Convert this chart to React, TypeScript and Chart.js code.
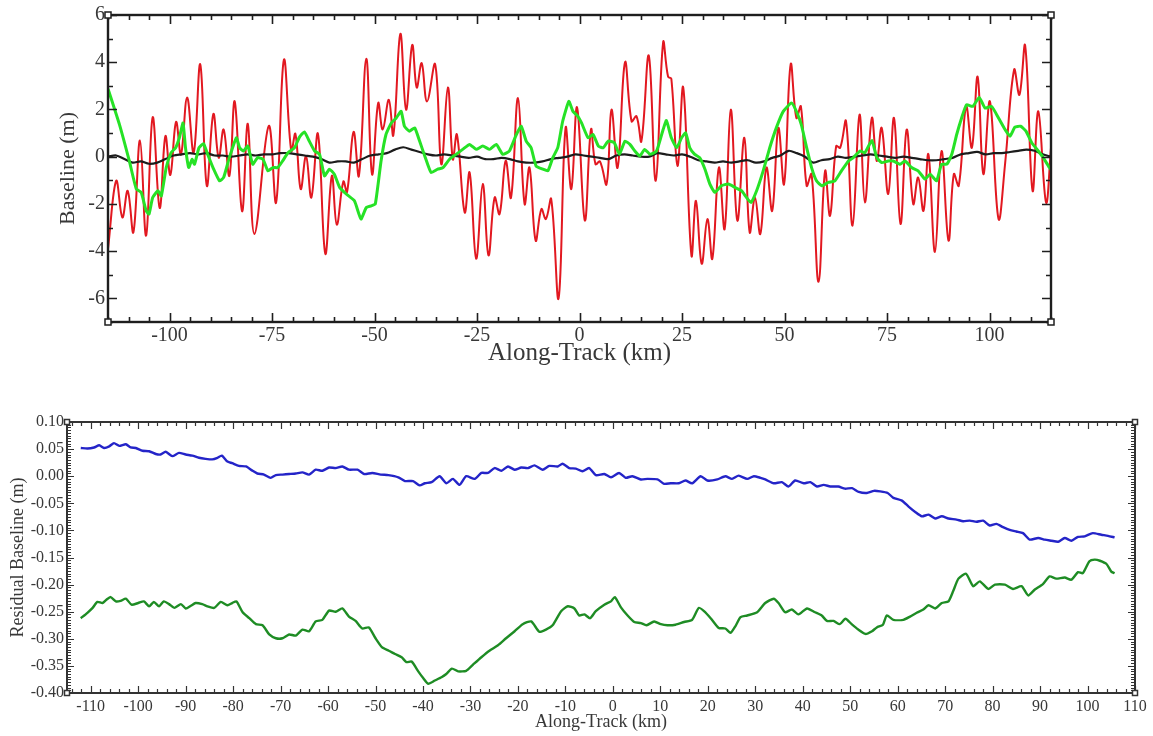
import React, { useEffect, useRef } from 'react';
import { Chart, registerables } from 'chart.js';

Chart.register(...registerables);

// ---------- DATA (top chart: Baseline vs Along-Track) ----------
const redBaseline: [number, number][] = [
  [-115, -3.9], [-113.0, -1.02], [-111.5, -2.57], [-110.2, -1.45], [-108.8, -3.2], [-107.2, 0.69],
  [-105.7, -3.34], [-104.1, 1.67], [-102.4, -2.17], [-101.0, 0.87], [-99.8, -0.77], [-98.4, 1.47],
  [-97.2, 0.1], [-95.7, 2.51], [-94.1, 0.17], [-92.5, 3.91], [-90.9, -1.23], [-89.3, 1.81],
  [-88.0, -0.04], [-86.8, 1.15], [-85.4, -0.81], [-84.1, 2.34], [-82.3, -2.31], [-80.9, 1.39],
  [-79.3, -3.27], [-75.8, 1.3], [-74.0, -1.94], [-72.1, 4.1], [-70.3, 0.24], [-69.3, 0.97],
  [-68.0, -1.37], [-66.7, 0.03], [-65.4, -1.73], [-63.8, 0.97], [-62.0, -4.11], [-60.4, -0.81],
  [-59.2, -2.88], [-57.6, -1.05], [-56.7, -1.5], [-55.1, 1.05], [-53.8, -0.81], [-52.0, 4.15],
  [-50.6, -0.74], [-49.1, 2.27], [-48.0, 1.15], [-46.5, 2.41], [-45.4, 0.91], [-43.7, 5.2],
  [-42.3, 1.99], [-40.8, 4.73], [-39.7, 2.93], [-38.5, 3.96], [-37.2, 2.34], [-35.2, 3.91],
  [-33.7, -0.32], [-32.1, 2.93], [-30.9, -0.11], [-29.9, 0.94], [-28.0, -2.36], [-26.8, -0.67],
  [-25.2, -4.32], [-23.6, -1.16], [-22.2, -4.18], [-20.7, -1.73], [-19.5, -2.43], [-18.0, -0.18],
  [-16.7, -1.73], [-15.0, 2.48], [-13.4, -2.0], [-12.2, -0.46], [-10.7, -3.55], [-9.3, -2.22],
  [-8.2, -2.64], [-6.9, -1.8], [-5.1, -6.0], [-3.4, 1.22], [-2.0, -1.37], [-0.6, 2.09],
  [1.3, -2.7], [2.8, 1.15], [3.9, -0.32], [5.0, -0.2], [6.6, -1.16], [7.8, 1.99],
  [9.3, -0.46], [11.1, 4.0], [12.7, 1.5], [13.9, 1.71], [15.1, 0.66], [16.9, 4.28],
  [18.6, -1.02], [20.4, 4.84], [21.6, 3.39], [22.4, 3.3], [23.9, -0.39], [25.3, 2.93],
  [27.3, -4.18], [28.4, -1.87], [29.8, -4.53], [31.2, -2.64], [32.4, -4.32], [34.0, -0.46],
  [35.4, -3.06], [36.9, 1.99], [38.5, -2.71], [40.2, 0.8], [41.5, -3.2], [42.8, -1.73],
  [44.1, -3.27], [45.6, -0.46], [47.0, -2.29], [48.5, 1.22], [49.9, -1.16], [51.5, 3.91],
  [52.9, 1.64], [54.0, 2.13], [55.4, -1.23], [56.6, -0.74], [58.3, -5.3], [59.9, -0.6],
  [61.1, -2.5], [62.6, 0.45], [63.6, 0.38], [65.0, 1.5], [66.6, -2.92], [68.3, 1.78],
  [69.6, -1.94], [71.3, 1.64], [72.5, -0.18], [73.7, 1.22], [75.3, -1.58], [76.7, 1.64],
  [78.3, -2.85], [79.8, 1.15], [81.4, -2.0], [82.6, -0.88], [83.9, -2.29], [85.1, 0.1],
  [86.7, -4.04], [88.3, 0.24], [90.0, -3.55], [91.3, -0.74], [92.5, -1.23], [94.3, 2.13],
  [95.7, 0.38], [97.1, 3.39], [98.5, -0.74], [100.1, 2.34], [102.2, -2.64], [103.8, -0.3],
  [106.0, 3.68], [107.3, 2.62], [108.7, 4.7], [110.5, -1.44], [111.9, 1.92], [113.8, -1.94],
  [115, 0.38],
];

const greenBaseline: [number, number][] = [
  [-115, 2.88], [-112.2, 1.36], [-109.8, -0.18], [-108.1, -1.37], [-106.9, -1.51], [-105.7, -2.29],
  [-105.0, -2.43], [-104.1, -1.73], [-102.8, -1.44], [-102.0, -1.66], [-100.8, -0.46], [-99.6, 0.17],
  [-98.5, 0.38], [-97.6, 0.8], [-96.7, 1.43], [-96.1, 0.38], [-95.3, -0.46], [-94.5, -0.11],
  [-93.9, -0.32], [-92.8, 0.38], [-91.7, 0.55], [-90.7, 0.1], [-89.4, -0.46], [-87.8, -1.02],
  [-86.8, -0.88], [-85.4, -0.04], [-83.7, 0.8], [-82.9, 0.38], [-82.0, 0.24], [-80.9, 0.45],
  [-79.7, -0.32], [-78.5, -0.04], [-77.2, -0.11], [-76.0, -0.6], [-74.8, -0.46], [-73.6, -0.46],
  [-72.4, -0.18], [-71.1, 0.17], [-69.5, 0.38], [-68.3, 0.83], [-67.1, 1.05], [-65.9, 0.66],
  [-64.6, 0.24], [-63.4, 0.1], [-62.2, -0.81], [-61.0, -0.53], [-59.8, -0.74], [-58.5, -1.3],
  [-56.9, -1.58], [-54.9, -1.87], [-53.3, -2.64], [-52.0, -2.15], [-50.8, -2.08], [-49.8, -2.0],
  [-48.4, -0.18], [-47.2, 0.94], [-45.9, 1.43], [-44.7, 1.64], [-43.5, 1.92], [-42.7, 1.29],
  [-41.5, 1.08], [-40.2, 1.22], [-39.0, 0.66], [-37.6, -0.04], [-36.2, -0.67], [-34.6, -0.53],
  [-33.3, -0.46], [-31.7, -0.11], [-30.1, 0.1], [-28.5, 0.31], [-26.8, 0.52], [-25.2, 0.31],
  [-23.6, 0.45], [-21.9, 0.31], [-20.3, 0.52], [-18.7, 0.1], [-17.1, 0.24], [-15.4, 0.94],
  [-14.2, 1.29], [-13.0, 0.66], [-11.8, 0.38], [-10.6, -0.39], [-8.9, -0.53], [-7.7, -0.6],
  [-6.5, -0.04], [-5.3, 0.38], [-4.1, 1.5], [-2.6, 2.34], [-1.6, 1.92], [-0.4, 1.71],
  [0.5, 1.43], [2.1, 0.8], [3.3, 0.94], [4.6, 0.45], [5.8, 0.38], [7.0, 0.66],
  [8.5, 0.59], [9.7, 0.1], [11.1, 0.66], [12.3, 0.52], [13.5, 0.24], [14.7, 0.03],
  [15.9, 0.31], [17.2, 0.1], [18.8, 0.24], [20.4, 1.15], [21.2, 1.53], [22.4, 0.8],
  [23.7, 0.38], [24.9, 0.8], [25.9, 1.01], [26.9, 0.38], [28.1, 0.1], [29.3, -0.04],
  [30.6, -0.53], [31.8, -1.16], [33.0, -1.51], [34.6, -1.23], [36.3, -1.16], [37.9, -1.3],
  [39.5, -1.44], [40.7, -1.72], [41.8, -1.94], [43.2, -1.44], [44.8, -0.6], [46.4, 0.38],
  [48.0, 1.22], [49.7, 1.92], [51.7, 2.27], [52.9, 1.92], [54.1, 1.36], [55.4, 0.38],
  [56.6, -0.46], [57.8, -1.02], [59.1, -1.23], [60.7, -1.09], [62.3, -1.02], [63.9, -0.6],
  [65.6, -0.18], [66.8, -0.04], [68.4, 0.24], [69.6, 0.17], [71.3, 0.69], [72.5, -0.04],
  [73.7, -0.25], [75.3, -0.18], [76.5, -0.18], [78.2, -0.32], [79.4, -0.18], [81.0, -0.46],
  [82.6, -0.6], [84.3, -0.95], [85.5, -0.74], [87.1, -1.02], [88.3, -0.32], [89.6, -0.32],
  [90.8, 0.1], [92.0, 0.94], [93.2, 1.64], [94.4, 2.2], [95.9, 2.13], [97.5, 2.51],
  [98.9, 2.06], [100.5, 2.13], [102.2, 1.64], [103.8, 1.15], [105.0, 0.87], [106.2, 1.25],
  [107.6, 1.29], [108.9, 1.08], [110.3, 0.59], [111.9, 0.24], [113.1, -0.04], [114.6, -0.46],
  [115, -0.55],
];

const blackBaseline: [number, number][] = [
  [-115, 0.0], [-113, 0.05], [-111, -0.1], [-109, -0.25], [-107, -0.2], [-105, -0.3],
  [-103, -0.25], [-101, -0.1], [-99, 0.05], [-97, 0.1], [-95, 0.15], [-93, 0.1],
  [-91, 0.15], [-89, 0.05], [-87, 0.05], [-85, 0.0], [-83, 0.05], [-81, 0.1],
  [-79, 0.05], [-77, 0.1], [-75, 0.1], [-73, 0.15], [-71, 0.15], [-69, 0.1],
  [-67, 0.05], [-65, 0.0], [-63, -0.1], [-61, -0.25], [-59, -0.2], [-57, -0.2],
  [-55, -0.25], [-53, -0.1], [-51, 0.05], [-49, 0.1], [-47, 0.15], [-45, 0.3],
  [-43, 0.4], [-41, 0.3], [-39, 0.2], [-37, 0.1], [-35, 0.05], [-33, 0.1],
  [-31, 0.05], [-29, 0.0], [-27, -0.05], [-25, 0.0], [-23, -0.1], [-21, -0.1],
  [-19, -0.05], [-17, -0.1], [-15, -0.2], [-13, -0.25], [-11, -0.25], [-9, -0.2],
  [-7, -0.1], [-5, -0.05], [-3, 0.0], [-1, 0.1], [1, 0.05], [3, 0.0],
  [5, -0.05], [7, -0.1], [9, 0.05], [11, 0.1], [13, 0.05], [15, 0.0],
  [17, 0.0], [19, 0.15], [21, 0.1], [23, 0.05], [25, 0.1], [27, 0.0],
  [29, -0.15], [31, -0.2], [33, -0.25], [35, -0.2], [37, -0.25], [39, -0.2],
  [41, -0.15], [43, -0.25], [45, -0.2], [47, -0.05], [49, 0.05], [51, 0.25],
  [53, 0.15], [55, 0.0], [57, -0.25], [59, -0.15], [61, -0.1], [63, 0.0],
  [65, -0.05], [67, 0.0], [69, 0.05], [71, 0.1], [73, 0.05], [75, 0.0],
  [77, -0.05], [79, 0.0], [81, -0.05], [83, -0.1], [85, -0.15], [87, -0.15],
  [89, -0.1], [91, -0.05], [93, 0.1], [95, 0.15], [97, 0.2], [99, 0.1],
  [101, 0.15], [103, 0.15], [105, 0.2], [107, 0.25], [109, 0.3], [111, 0.25],
  [113, 0.1], [115, 0.0],
];

// ---------- DATA (bottom chart: Residual Baseline) ----------
const blueResidual: [number, number][] = [
  [-112.1, 0.052], [-110.7, 0.051], [-109.3, 0.053], [-108.2, 0.057], [-107.2, 0.052], [-106.1, 0.055],
  [-105.1, 0.061], [-104.0, 0.056], [-102.6, 0.059], [-101.6, 0.053], [-100.5, 0.052], [-99.1, 0.047],
  [-97.7, 0.046], [-96.3, 0.041], [-95.3, 0.040], [-94.2, 0.045], [-92.8, 0.037], [-91.4, 0.043],
  [-90.0, 0.040], [-88.6, 0.038], [-87.2, 0.034], [-85.8, 0.032], [-84.4, 0.031], [-83.3, 0.034],
  [-82.4, 0.038], [-81.2, 0.027], [-80.2, 0.024], [-78.8, 0.019], [-77.3, 0.018], [-75.9, 0.010],
  [-74.9, 0.005], [-73.5, 0.003], [-72.1, -0.003], [-71.0, 0.002], [-69.6, 0.003], [-68.2, 0.004],
  [-66.8, 0.005], [-65.4, 0.007], [-64.0, 0.003], [-62.6, 0.012], [-61.2, 0.010], [-59.8, 0.016],
  [-58.4, 0.015], [-57.0, 0.018], [-55.6, 0.012], [-53.8, 0.012], [-52.4, 0.004], [-50.7, 0.006],
  [-48.9, 0.003], [-47.3, 0.002], [-45.2, -0.002], [-43.8, -0.009], [-42.1, -0.009], [-40.7, -0.017],
  [-39.6, -0.013], [-38.2, -0.011], [-36.5, 0.000], [-35.1, -0.013], [-33.7, -0.005], [-32.3, -0.016],
  [-30.9, 0.000], [-29.1, -0.005], [-27.7, 0.006], [-26.3, 0.006], [-24.9, 0.015], [-23.5, 0.010],
  [-22.1, 0.018], [-20.7, 0.012], [-19.3, 0.016], [-17.9, 0.015], [-16.5, 0.020], [-14.8, 0.012],
  [-13.4, 0.019], [-11.6, 0.018], [-10.6, 0.023], [-9.2, 0.015], [-7.8, 0.014], [-6.4, 0.009],
  [-5.0, 0.015], [-3.6, 0.002], [-1.8, 0.004], [-0.4, -0.002], [1.3, 0.006], [2.7, -0.003],
  [4.1, 0.000], [5.9, -0.006], [7.3, -0.005], [9.4, -0.006], [10.8, -0.014], [12.2, -0.013],
  [13.9, -0.013], [15.3, -0.008], [16.7, -0.013], [18.5, 0.000], [19.9, -0.008], [22.0, -0.006],
  [23.7, 0.000], [25.1, -0.005], [26.5, 0.001], [28.3, -0.005], [29.7, 0.000], [31.1, -0.003],
  [32.1, -0.006], [33.9, -0.013], [35.6, -0.011], [37.0, -0.019], [38.4, -0.008], [40.2, -0.013],
  [41.6, -0.011], [43.0, -0.019], [44.4, -0.016], [45.8, -0.019], [47.5, -0.019], [48.9, -0.023],
  [50.4, -0.022], [51.8, -0.029], [53.5, -0.031], [55.0, -0.027], [56.3, -0.028], [57.9, -0.031],
  [59.1, -0.040], [60.9, -0.045], [62.3, -0.056], [63.7, -0.066], [65.1, -0.074], [66.5, -0.071],
  [67.9, -0.078], [69.3, -0.074], [70.7, -0.078], [72.4, -0.080], [73.8, -0.083], [75.2, -0.082],
  [76.6, -0.084], [78.0, -0.082], [79.4, -0.091], [80.8, -0.088], [82.2, -0.094], [83.6, -0.099],
  [85.0, -0.102], [86.4, -0.105], [87.8, -0.117], [89.6, -0.114], [91.0, -0.117], [92.4, -0.119],
  [93.8, -0.121], [95.2, -0.114], [96.6, -0.119], [98.0, -0.112], [99.4, -0.111], [101.1, -0.105],
  [102.9, -0.108], [104.3, -0.110], [105.7, -0.113],
];

const greenResidual: [number, number][] = [
  [-112.1, -0.262], [-110.7, -0.252], [-109.6, -0.243], [-108.6, -0.232], [-107.5, -0.234], [-106.7, -0.228],
  [-105.8, -0.223], [-104.7, -0.231], [-103.7, -0.230], [-102.6, -0.226], [-101.4, -0.237], [-100.0, -0.234],
  [-98.8, -0.231], [-97.7, -0.240], [-96.7, -0.232], [-95.6, -0.240], [-94.6, -0.231], [-93.5, -0.236],
  [-92.4, -0.243], [-91.0, -0.236], [-90.0, -0.244], [-88.9, -0.239], [-87.9, -0.234], [-86.5, -0.236],
  [-85.4, -0.240], [-84.0, -0.243], [-82.6, -0.232], [-81.2, -0.238], [-80.2, -0.234], [-79.3, -0.231],
  [-78.0, -0.251], [-76.6, -0.262], [-75.2, -0.273], [-73.8, -0.275], [-72.4, -0.292], [-71.0, -0.299],
  [-69.6, -0.299], [-68.2, -0.292], [-66.8, -0.294], [-65.4, -0.283], [-64.0, -0.286], [-62.6, -0.268],
  [-61.2, -0.265], [-59.8, -0.248], [-58.4, -0.250], [-57.0, -0.244], [-55.6, -0.259], [-54.2, -0.267],
  [-52.8, -0.281], [-51.4, -0.279], [-50.0, -0.299], [-48.6, -0.316], [-47.2, -0.322], [-45.9, -0.328],
  [-44.5, -0.334], [-43.5, -0.343], [-42.4, -0.342], [-41.0, -0.360], [-40.0, -0.372], [-38.9, -0.383],
  [-37.5, -0.377], [-36.1, -0.371], [-35.1, -0.365], [-33.9, -0.355], [-32.6, -0.360], [-30.9, -0.359],
  [-29.5, -0.348], [-27.7, -0.334], [-26.0, -0.322], [-24.2, -0.312], [-22.5, -0.299], [-20.7, -0.286],
  [-19.0, -0.273], [-17.2, -0.268], [-15.5, -0.287], [-14.1, -0.283], [-12.7, -0.275], [-10.9, -0.249],
  [-9.5, -0.240], [-8.1, -0.244], [-7.1, -0.257], [-6.0, -0.255], [-4.8, -0.262], [-3.6, -0.249],
  [-1.8, -0.237], [-0.4, -0.231], [0.4, -0.223], [1.7, -0.242], [3.1, -0.257], [4.5, -0.269],
  [5.9, -0.271], [7.1, -0.275], [8.7, -0.268], [10.1, -0.273], [11.5, -0.275], [13.2, -0.274],
  [15.0, -0.269], [16.7, -0.265], [18.1, -0.243], [19.2, -0.249], [20.6, -0.262], [22.3, -0.280],
  [23.7, -0.281], [24.8, -0.289], [25.8, -0.277], [26.9, -0.260], [28.3, -0.257], [30.4, -0.251],
  [32.1, -0.234], [33.9, -0.226], [34.9, -0.234], [36.3, -0.251], [37.7, -0.246], [39.1, -0.255],
  [40.9, -0.244], [42.6, -0.251], [44.0, -0.257], [45.1, -0.267], [46.5, -0.267], [47.8, -0.273],
  [49.0, -0.263], [50.3, -0.273], [51.7, -0.283], [53.2, -0.291], [54.6, -0.286], [55.6, -0.279],
  [56.9, -0.274], [57.7, -0.257], [59.1, -0.265], [61.2, -0.265], [62.6, -0.259], [64.0, -0.252],
  [65.4, -0.246], [66.5, -0.238], [67.9, -0.244], [69.3, -0.234], [70.7, -0.231], [71.7, -0.212],
  [72.8, -0.189], [74.4, -0.180], [75.9, -0.203], [77.3, -0.194], [79.1, -0.208], [80.5, -0.200],
  [82.6, -0.200], [84.3, -0.208], [86.1, -0.203], [87.5, -0.220], [88.9, -0.209], [90.6, -0.199],
  [92.0, -0.185], [93.4, -0.189], [95.2, -0.187], [96.6, -0.191], [98.0, -0.177], [99.0, -0.179],
  [100.4, -0.157], [101.5, -0.154], [102.6, -0.156], [104.0, -0.162], [105.0, -0.176], [105.7, -0.179],
];

// ---------- tick labels ----------
const topXTicks = [-100, -75, -50, -25, 0, 25, 50, 75, 100];
const topYTicks = [-6, -4, -2, 0, 2, 4, 6];
const botXTicks = [-110, -100, -90, -80, -70, -60, -50, -40, -30, -20, -10, 0, 10, 20, 30, 40, 50, 60, 70, 80, 90, 100, 110];
const botYTicks = [-0.4, -0.35, -0.3, -0.25, -0.2, -0.15, -0.1, -0.05, 0, 0.05, 0.1];

const SERIF = '"Liberation Serif", "Times New Roman", serif';
const TEXT = '#383838';

const toPts = (arr: [number, number][]) => arr.map(([x, y]) => ({ x, y }));

function steps(min: number, max: number, step: number): number[] {
  const n = Math.round((max - min) / step);
  const out: number[] = [];
  for (let i = 0; i <= n; i++) out.push(+(min + i * step).toFixed(6));
  return out;
}

const framePlugin = {
  id: 'frame',
  afterDraw(chart: any, _args: any, o: any) {
    if (!o || !o.enabled) return;
    const { ctx, chartArea: a, scales } = chart;
    const xs = scales.x;
    const ys = scales.y;
    ctx.save();
    ctx.strokeStyle = o.color;
    ctx.lineWidth = o.tickWidth;
    ctx.beginPath();
    const xTick = (v: number, len: number) => {
      const p = Math.round(xs.getPixelForValue(v)) + 0.5;
      ctx.moveTo(p, a.bottom);
      ctx.lineTo(p, a.bottom - len);
      ctx.moveTo(p, a.top);
      ctx.lineTo(p, a.top + len);
    };
    const yTick = (v: number, len: number) => {
      const p = Math.round(ys.getPixelForValue(v)) + 0.5;
      ctx.moveTo(a.left, p);
      ctx.lineTo(a.left + len, p);
      ctx.moveTo(a.right, p);
      ctx.lineTo(a.right - len, p);
    };
    steps(o.xMinor[0], o.xMinor[1], o.xMinor[2]).forEach((v) => xTick(v, o.minorLen));
    steps(o.xMajor[0], o.xMajor[1], o.xMajor[2]).forEach((v) => xTick(v, o.majorLen));
    steps(o.yMinor[0], o.yMinor[1], o.yMinor[2]).forEach((v) => yTick(v, o.minorLen));
    steps(o.yMajor[0], o.yMajor[1], o.yMajor[2]).forEach((v) => yTick(v, o.majorLen));
    ctx.stroke();
    ctx.lineWidth = o.frameWidth;
    ctx.strokeRect(a.left, a.top, a.right - a.left, a.bottom - a.top);
    const s = o.corner;
    ctx.lineWidth = 1.5;
    ctx.fillStyle = '#ffffff';
    [[a.left, a.top], [a.right, a.top], [a.left, a.bottom], [a.right, a.bottom]].forEach(([cx, cy]) => {
      ctx.fillRect(cx - s / 2, cy - s / 2, s, s);
      ctx.strokeRect(cx - s / 2, cy - s / 2, s, s);
    });
    ctx.restore();
  },
};

function TopChart() {
  const ref = useRef<HTMLCanvasElement | null>(null);
  useEffect(() => {
    if (!ref.current) return;
    const chart = new Chart(ref.current, {
      type: 'line',
      data: {
        datasets: [
          { data: toPts(greenBaseline), borderColor: 'rgb(38,226,38)', borderWidth: 3, pointRadius: 0, tension: 0.15 },
          { data: toPts(blackBaseline), borderColor: '#1c1c1c', borderWidth: 2.2, pointRadius: 0, tension: 0.3 },
          { data: toPts(redBaseline), borderColor: 'rgb(226,24,32)', borderWidth: 2, pointRadius: 0, tension: 0.4 },
        ],
      },
      options: {
        responsive: false,
        animation: false,
        layout: { padding: { top: 13, right: 102, left: 0, bottom: 0 } },
        plugins: {
          legend: { display: false },
          tooltip: { enabled: false },
          frame: {
            enabled: true, color: '#1e1e1e', tickWidth: 1.6, frameWidth: 2.4, majorLen: 9, minorLen: 5, corner: 6,
            xMinor: [-115, 115, 5], xMajor: [-100, 100, 25], yMinor: [-7, 6, 1], yMajor: [-6, 6, 2],
          },
        } as any,
        scales: {
          x: {
            type: 'linear', min: -115, max: 115, position: 'bottom',
            grid: { display: false, drawTicks: false }, border: { display: false },
            afterFit: (s: any) => { s.height = 53; },
            afterBuildTicks: (s: any) => { s.ticks = topXTicks.map((v) => ({ value: v })); },
            ticks: { padding: 2, color: TEXT, autoSkip: false, maxRotation: 0, font: { family: SERIF, size: 20 }, callback: (v: any) => String(v) },
            title: { display: true, text: 'Along-Track (km)', color: TEXT, font: { family: SERIF, size: 25 }, padding: { top: 0, bottom: 7 } },
          },
          y: {
            type: 'linear', min: -7, max: 6, position: 'left',
            grid: { display: false, drawTicks: false }, border: { display: false },
            afterFit: (s: any) => { s.width = 108; },
            afterBuildTicks: (s: any) => { s.ticks = topYTicks.map((v) => ({ value: v })); },
            ticks: { padding: 3, color: TEXT, autoSkip: false, font: { family: SERIF, size: 20 }, callback: (v: any) => String(v) },
            title: { display: true, text: 'Baseline (m)', color: TEXT, font: { family: SERIF, size: 22 }, padding: { top: 55, bottom: 0 } },
          },
        },
      } as any,
      plugins: [framePlugin as any],
    });
    return () => chart.destroy();
  }, []);
  return <canvas ref={ref} width={1153} height={375} style={{ display: 'block', width: 1153, height: 375 }} />;
}

function BottomChart() {
  const ref = useRef<HTMLCanvasElement | null>(null);
  useEffect(() => {
    if (!ref.current) return;
    const chart = new Chart(ref.current, {
      type: 'line',
      data: {
        datasets: [
          { data: toPts(blueResidual), borderColor: 'rgb(36,36,200)', borderWidth: 2.4, pointRadius: 0, tension: 0.2 },
          { data: toPts(greenResidual), borderColor: 'rgb(30,140,36)', borderWidth: 2.4, pointRadius: 0, tension: 0.2 },
        ],
      },
      options: {
        responsive: false,
        animation: false,
        layout: { padding: { top: 47, right: 18, left: 0, bottom: 0 } },
        plugins: {
          legend: { display: false },
          tooltip: { enabled: false },
          frame: {
            enabled: true, color: '#333333', tickWidth: 1.2, frameWidth: 2, majorLen: 7, minorLen: 4, corner: 5,
            xMinor: [-114, 110, 2], xMajor: [-110, 110, 10], yMinor: [-0.4, 0.1, 0.005], yMajor: [-0.4, 0.1, 0.05],
          },
        } as any,
        scales: {
          x: {
            type: 'linear', min: -115, max: 110, position: 'bottom',
            grid: { display: false, drawTicks: false }, border: { display: false },
            afterFit: (s: any) => { s.height = 43; },
            afterBuildTicks: (s: any) => { s.ticks = botXTicks.map((v) => ({ value: v })); },
            ticks: { padding: 4, color: TEXT, autoSkip: false, maxRotation: 0, font: { family: SERIF, size: 16 }, callback: (v: any) => String(v) },
            title: { display: true, text: 'Along-Track (km)', color: TEXT, font: { family: SERIF, size: 18 }, padding: { top: 0, bottom: 3 } },
          },
          y: {
            type: 'linear', min: -0.4, max: 0.1, position: 'left',
            grid: { display: false, drawTicks: false }, border: { display: false },
            afterFit: (s: any) => { s.width = 67; },
            afterBuildTicks: (s: any) => { s.ticks = botYTicks.map((v) => ({ value: v })); },
            ticks: { padding: 3, color: TEXT, autoSkip: false, font: { family: SERIF, size: 16 }, callback: (v: any) => Number(v).toFixed(2) },
            title: { display: true, text: 'Residual Baseline (m)', color: TEXT, font: { family: SERIF, size: 18 }, padding: { top: 7, bottom: 0 } },
          },
        },
      } as any,
      plugins: [framePlugin as any],
    });
    return () => chart.destroy();
  }, []);
  return <canvas ref={ref} width={1153} height={361} style={{ display: 'block', width: 1153, height: 361 }} />;
}

export default function App() {
  return (
    <div style={{ position: 'absolute', left: 0, top: 0, width: 1153, height: 736, background: '#ffffff', overflow: 'hidden' }}>
      <TopChart />
      <BottomChart />
    </div>
  );
}
